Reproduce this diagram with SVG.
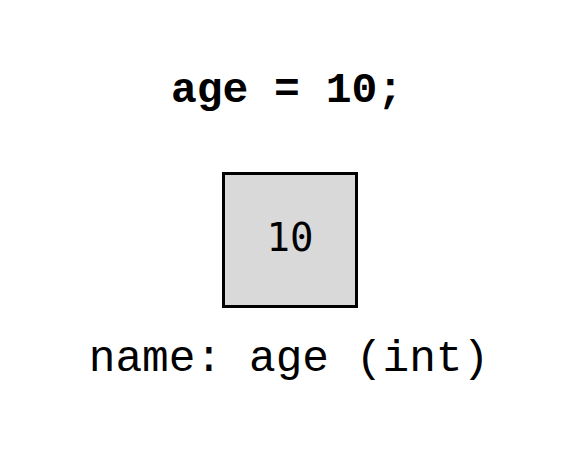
<svg xmlns="http://www.w3.org/2000/svg" width="564" height="466" viewBox="0 0 564 466">
<style>
.mono{font-family:"Liberation Mono","Courier New",monospace;fill:#000}
.title{font-size:43px;font-weight:bold}
.label{font-size:44.5px}
.val{font-family:"DejaVu Sans Mono",monospace;font-size:39px;fill:#000}
.box{fill:#d9d9d9;stroke:#000;stroke-width:3}
</style>
<rect width="564" height="466" fill="#fff"/>
<g id="title"><text class="mono title" x="287" y="102" text-anchor="middle">age = 10;</text></g>
<g id="var-age">
<rect class="box" x="223.5" y="173.5" width="133" height="133"/>
<text class="val" x="290" y="251" text-anchor="middle">10</text>
</g>
<g id="name-label"><text class="mono label" x="289" y="371" text-anchor="middle">name: age (int)</text></g>
<g id="connectors"/>
</svg>
